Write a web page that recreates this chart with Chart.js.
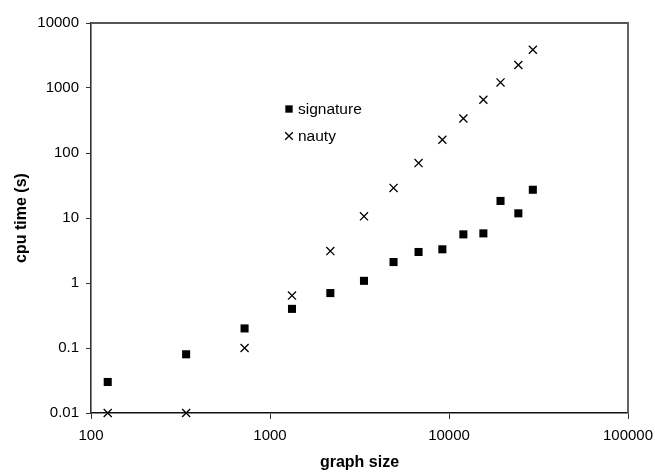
<!DOCTYPE html>
<html>
<head>
<meta charset="utf-8">
<script src="https://cdn.jsdelivr.net/npm/chart.js@4/dist/chart.umd.min.js"></script>
<style>
  html, body { margin: 0; padding: 0; background: #fff; }
  #wrap { width: 655px; height: 472px; position: relative; }
</style>
</head>
<body>
<div id="wrap"><canvas id="c" width="655" height="472"></canvas></div>
<script>
// ---- data ----
const graphSizes = [124, 340, 721, 1327, 2173, 3350, 4900, 6760, 9180, 12030, 15560, 19400, 24400, 29400];
const signatureTimes = [0.03, 0.08, 0.2, 0.4, 0.7, 1.08, 2.1, 3.0, 3.3, 5.6, 5.8, 18.3, 11.8, 27.2];
const nautyTimes = [0.01, 0.01, 0.1, 0.64, 3.1, 10.6, 29, 70, 160, 340, 660, 1220, 2260, 3880];
const seriesNames = ['signature', 'nauty'];
const xTickValues = [100, 1000, 10000, 100000];
const xTickLabels = ['100', '1000', '10000', '100000'];
const yTickValues = [0.01, 0.1, 1, 10, 100, 1000, 10000];
const yTickLabels = ['0.01', '0.1', '1', '10', '100', '1000', '10000'];
const xTitle = 'graph size';
const yTitle = 'cpu time (s)';

const FONT = '"Liberation Sans", Arial, sans-serif';

const toPoints = (xs, ys) => xs.map((x, i) => ({ x: x, y: ys[i] }));

const framePlugin = {
  id: 'frame',
  afterDraw(chart) {
    const a = chart.chartArea, ctx = chart.ctx;
    ctx.save();
    ctx.strokeStyle = '#555';
    ctx.lineWidth = 1.8;
    ctx.beginPath();
    ctx.moveTo(a.left, a.top);
    ctx.lineTo(a.right, a.top);
    ctx.lineTo(a.right, a.bottom);
    ctx.stroke();
    ctx.restore();
  }
};

const legendPlugin = {
  id: 'innerLegend',
  afterDraw(chart) {
    const ctx = chart.ctx;
    const mx = 289, rows = [109, 136];
    ctx.save();
    ctx.font = '15.5px ' + FONT;
    ctx.textBaseline = 'middle';
    ctx.textAlign = 'left';
    chart.data.datasets.forEach((ds, i) => {
      ctx.fillStyle = '#000';
      ctx.strokeStyle = '#000';
      ctx.lineWidth = ds.borderWidth || 1;
      Chart.helpers.drawPoint(ctx, {
        pointStyle: ds.pointStyle,
        radius: ds.pointStyle === 'rect' ? 5.2 : 5.4,
        borderWidth: ds.borderWidth,
        rotation: 0
      }, mx, rows[i]);
      ctx.fillStyle = '#000';
      ctx.fillText(ds.label, mx + 9, rows[i] + 0.5);
    });
    ctx.restore();
  }
};

new Chart(document.getElementById('c'), {
  type: 'scatter',
  data: {
    datasets: [
      {
        label: seriesNames[0],
        data: toPoints(graphSizes, signatureTimes),
        pointStyle: 'rect',
        pointRadius: 5.7,
        pointHoverRadius: 5.7,
        backgroundColor: '#000',
        borderColor: '#000',
        borderWidth: 0,
        clip: false
      },
      {
        label: seriesNames[1],
        data: toPoints(graphSizes, nautyTimes),
        pointStyle: 'crossRot',
        pointRadius: 5.7,
        pointHoverRadius: 5.7,
        backgroundColor: '#000',
        borderColor: '#000',
        borderWidth: 1.3,
        clip: false
      }
    ]
  },
  options: {
    responsive: false,
    animation: false,
    devicePixelRatio: 1,
    layout: { padding: { top: 23, right: 27, left: 12, bottom: 0 } },
    plugins: {
      legend: { display: false },
      tooltip: { enabled: false }
    },
    scales: {
      x: {
        type: 'logarithmic',
        min: 100,
        max: 100000,
        afterBuildTicks(scale) { scale.ticks = xTickValues.map(v => ({ value: v })); },
        afterFit(scale) { scale.height = 59; scale.paddingRight = 0; scale.paddingLeft = 0; },
        ticks: {
          autoSkip: false,
          maxRotation: 0,
          padding: 8,
          color: '#000',
          font: { family: FONT, size: 15 },
          callback: (v) => { const i = xTickValues.indexOf(v); return i >= 0 ? xTickLabels[i] : ''; }
        },
        grid: { drawOnChartArea: false, drawTicks: true, tickLength: 6, color: '#333', lineWidth: 1 },
        border: { display: true, color: '#111', width: 1.6 },
        title: { display: true, text: xTitle, color: '#000', font: { family: FONT, size: 16, weight: 'bold' }, padding: { top: 13, bottom: 0 } }
      },
      y: {
        type: 'logarithmic',
        min: 0.01,
        max: 10000,
        afterBuildTicks(scale) { scale.ticks = yTickValues.map(v => ({ value: v })); },
        afterFit(scale) { scale.width = 79; scale.paddingTop = 0; scale.paddingBottom = 0; },
        ticks: {
          autoSkip: false,
          padding: 7,
          color: '#000',
          font: { family: FONT, size: 15 },
          callback: (v) => { const i = yTickValues.findIndex(t => Math.abs(t - v) / t < 1e-9); return i >= 0 ? yTickLabels[i] : ''; }
        },
        grid: { drawOnChartArea: false, drawTicks: true, tickLength: 5, color: '#333', lineWidth: 1 },
        border: { display: true, color: '#333', width: 1.6 },
        title: { display: true, text: yTitle, color: '#000', font: { family: FONT, size: 16, weight: 'bold' }, padding: { top: 0, bottom: 10 } }
      }
    }
  },
  plugins: [framePlugin, legendPlugin]
});
</script>
</body>
</html>
